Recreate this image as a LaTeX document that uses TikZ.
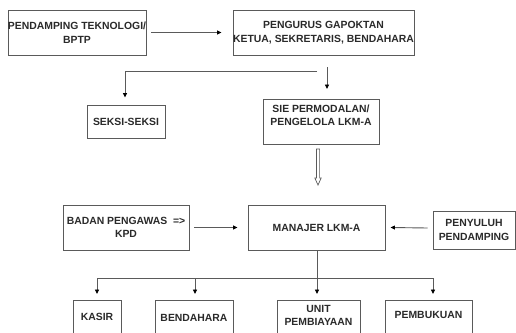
\documentclass[tikz,border=0pt]{standalone}
\usepackage{fontspec}
\setmainfont{Liberation Sans}
\usetikzlibrary{arrows.meta,calc}
\definecolor{linec}{HTML}{5A5A5A}
\definecolor{txtc}{HTML}{2A2A2A}
\begin{document}
\begin{tikzpicture}[x=1pt,y=-1pt,
  box/.style={draw=linec,line width=0.9pt,fill=white,inner sep=0pt,anchor=center},
  lbl/.style={text=txtc,font=\fontsize{10.4}{13.5}\selectfont\bfseries,align=center,inner sep=0pt,anchor=center},
  conn/.style={draw=linec,line width=0.9pt},
  arr/.style={conn,-{Triangle[length=4.5pt,width=4pt,fill=black,color=black]}}]
\useasboundingbox (0,0) rectangle (516,332);
\clip (0,0) rectangle (516,332);
\fill[white] (0,0) rectangle (516,332);
% boxes
\node[box,minimum width=138pt,minimum height=45pt] (b1) at (77,32.5) {};
\node[lbl] (t1) at (b1.center) {PENDAMPING TEKNOLOGI/\\BPTP};
\node[box,minimum width=181pt,minimum height=45pt] (b2) at (323.5,32.5) {};
\node[lbl] (t2) at (b2.center) {PENGURUS GAPOKTAN\\KETUA, SEKRETARIS, BENDAHARA};
\node[box,minimum width=78pt,minimum height=33pt] (seksi) at (126,121.5) {};
\node[lbl] (tseksi) at (seksi.center) {SEKSI-SEKSI};
\node[box,minimum width=116pt,minimum height=45pt] (sie) at (321,121.5) {};
\node[lbl] (tsie) at (321,115.5) {SIE PERMODALAN/\\PENGELOLA LKM-A};
\node[box,minimum width=137pt,minimum height=45pt] (man) at (316.5,227.5) {};
\node[lbl] (tman) at (man.center) {MANAJER LKM-A};
\node[box,minimum width=126pt,minimum height=45pt] (badan) at (126,227.5) {};
\node[lbl] (tbadan) at (badan.center) {BADAN PENGAWAS \ =>\\KPD};
\node[box,minimum width=82pt,minimum height=38pt] (peny) at (474,230) {};
\node[lbl] (tpeny) at (peny.center) {PENYULUH\\PENDAMPING};
\node[box,minimum width=48pt,minimum height=36pt] (kasir) at (97,318) {};
\node[lbl] (tkasir) at (97,317) {KASIR};
\node[box,minimum width=78pt,minimum height=36pt] (bend) at (194,318) {};
\node[lbl] (tbend) at (194,318) {BENDAHARA};
\node[box,minimum width=83pt,minimum height=36pt] (unit) at (318.5,318) {};
\node[lbl] (tunit) at (318.5,315.5) {UNIT\\PEMBIAYAAN};
\node[box,minimum width=87pt,minimum height=36pt] (pemb) at (428.5,318) {};
\node[lbl] (tpemb) at (428.5,315) {PEMBUKUAN};
% connectors
\draw[arr] ($(b1.east)+(5,0)$) -- ($(b2.west)+(-11,0)$);
\coordinate (h1) at (317,71);
\draw[arr] (h1) -| ($(seksi.north)+(-1,-7)$);
\coordinate (a1) at (327,67);
\coordinate (a2) at (327,89);
\draw[arr] (a1) -- (a2);
% hollow arrow
\coordinate (hs) at (318,149);
\coordinate (he) at (318,185);
\draw[linec,line width=0.7pt,fill=white] ($(hs)+(-1.6,0)$) -- ($(he)+(-1.6,-7)$) -- ($(he)+(-3.2,-7)$) -- (he) -- ($(he)+(3.2,-7)$) -- ($(he)+(1.6,-7)$) -- ($(hs)+(1.6,0)$) -- cycle;
\draw[arr] ($(badan.east)+(5,0)$) -- ($(man.west)+(-10,0)$);
\draw[arr] ($(peny.west)+(-5,-2)$) -- ($(man.east)+(5,0)$);
\coordinate (j) at (317,278);
\draw[conn] (man.south -| j) -- (j);
\draw[conn] (97,278) -- (433,278);
\draw[arr] (97,278) -- (97,294);
\draw[arr] (195,278) -- (195,294);
\draw[arr] (j) -- (317,294);
\draw[arr] (433,278) -- (433,294);
\end{tikzpicture}
\end{document}
